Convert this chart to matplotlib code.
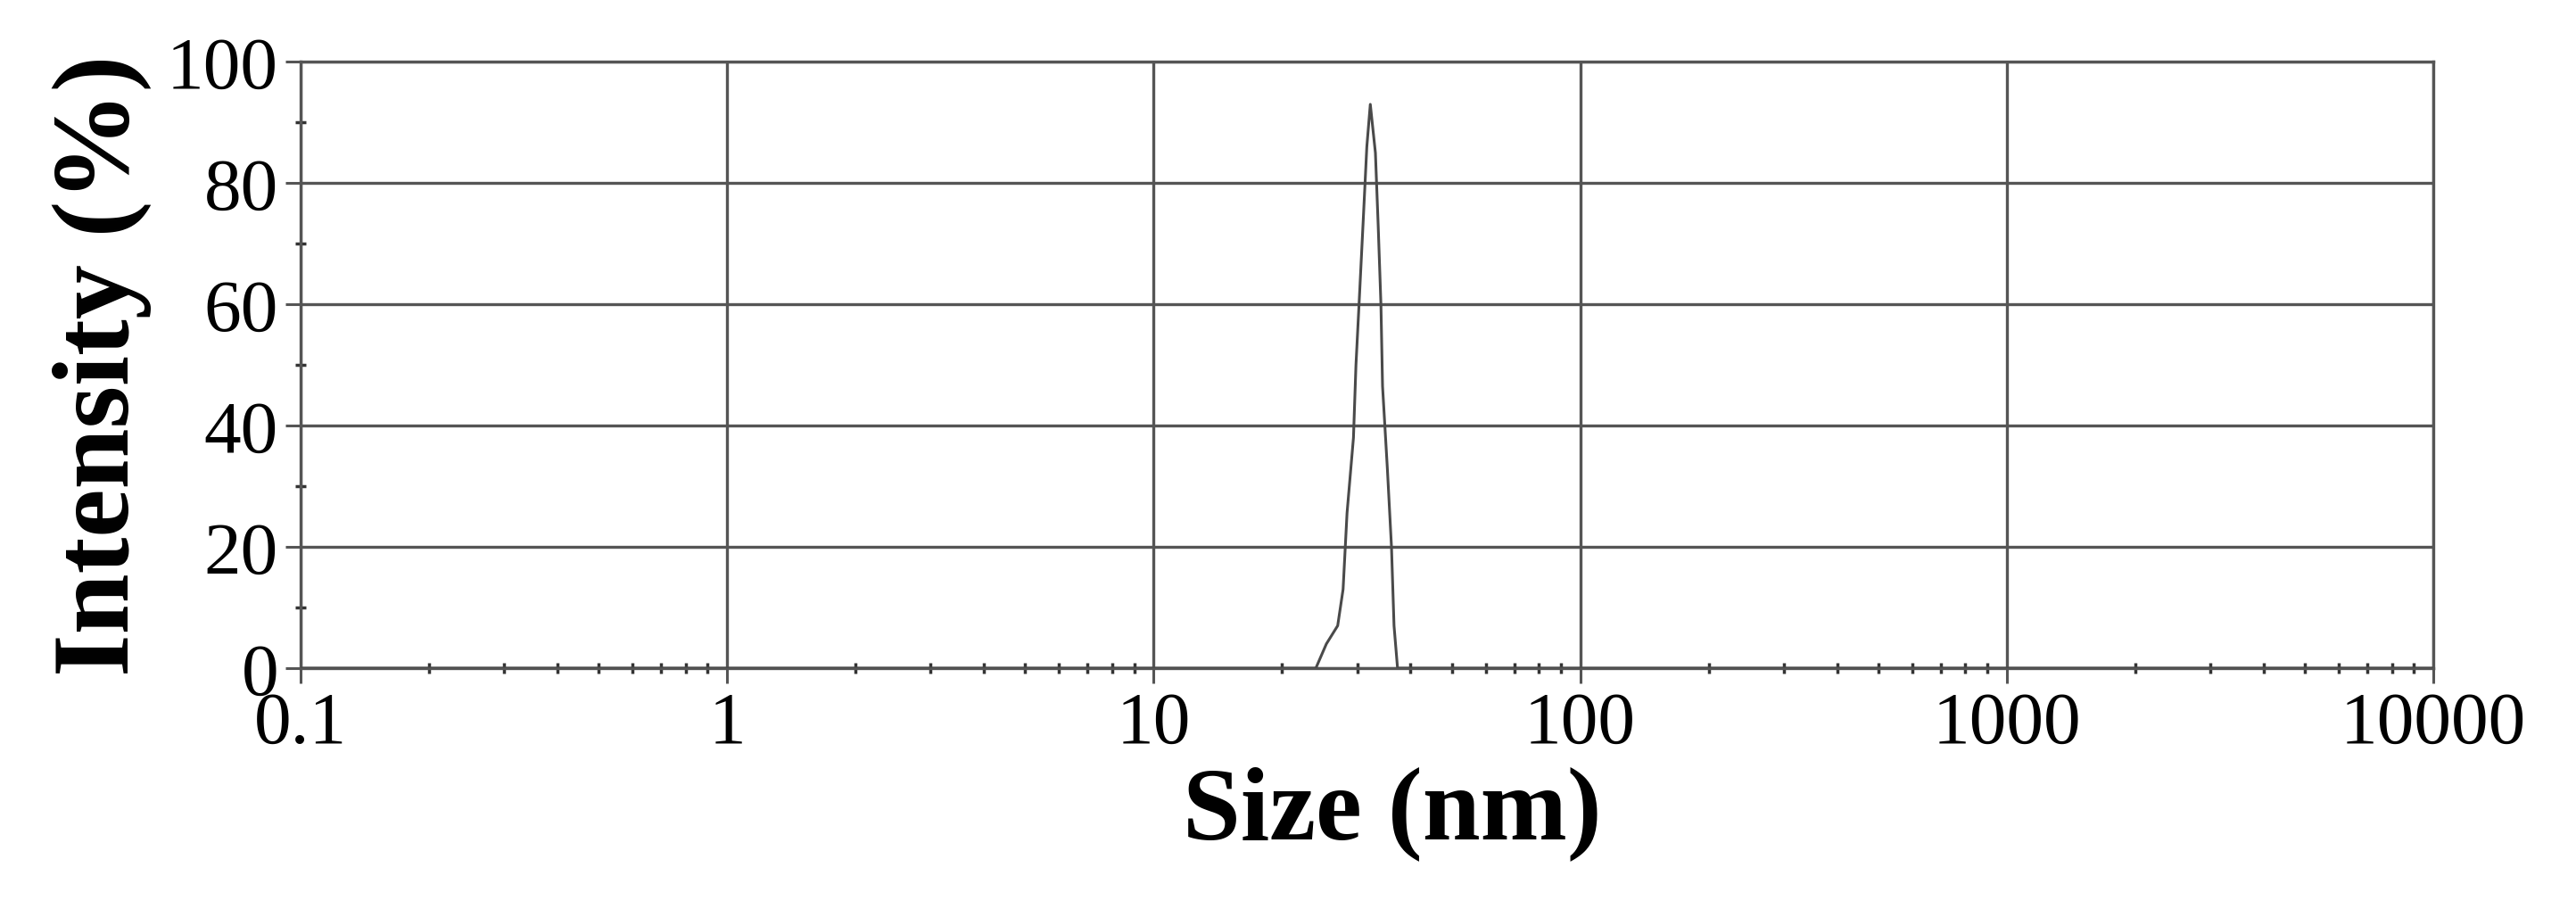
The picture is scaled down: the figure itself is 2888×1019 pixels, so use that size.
import matplotlib
matplotlib.use("Agg")
import matplotlib.pyplot as plt
from matplotlib.ticker import FixedLocator, NullFormatter

# 粒径分布数据 (nm, %)
size_nm = [0.1, 1, 10, 20, 24.0, 25.4, 27.0, 27.8, 28.4, 29.4, 29.8, 30.4, 31.0, 31.6,
           32.2, 33.1, 33.6, 34.1, 34.4, 35.3, 36.1, 36.6, 37.3, 50, 100, 1000, 10000]
intensity = [0, 0, 0, 0, 0, 4, 7, 13, 25.6, 38, 50, 62, 74, 86,
             93, 85, 73, 60, 46.5, 33, 20, 7, 0, 0, 0, 0, 0]

x_ticks = [0.1, 1, 10, 100, 1000, 10000]
x_labels = ["0.1", "1", "10", "100", "1000", "10000"]
y_ticks = [0, 20, 40, 60, 80, 100]

plt.rcParams['font.family'] = ['Liberation Serif', 'DejaVu Serif']

fig = plt.figure(figsize=(28.88, 10.2), dpi=100, facecolor="white")
ax = fig.add_axes([0.1167, 0.2647, 0.8279, 0.6663])

ax.plot(size_nm, intensity, color="#4a4a4a", lw=2.2, zorder=3)

ax.set_xscale("log")
ax.set_xlim(0.1, 10000)
ax.set_ylim(0, 100)

ax.xaxis.set_major_locator(FixedLocator(x_ticks))
ax.set_xticklabels(x_labels)
minor_x = [m * 10.0 ** e for e in range(-1, 4) for m in range(2, 10)]
ax.xaxis.set_minor_locator(FixedLocator(minor_x))
ax.xaxis.set_minor_formatter(NullFormatter())
ax.set_yticks(y_ticks)
ax.yaxis.set_minor_locator(FixedLocator([10, 30, 50, 70, 90]))

ax.grid(which="major", color="#555555", lw=2.4)
for s in ax.spines.values():
    s.set_color("#555555")
    s.set_linewidth(2.4)

ax.tick_params(which="major", direction="out", length=12, width=2.2, color="#555555",
               labelsize=60, pad=6)
ax.tick_params(which="minor", direction="inout", length=9, width=2.5, color="#333333")

ax.set_xlabel("Size (nm)", fontsize=84, fontweight="bold", labelpad=6, x=0.512)
ax.set_ylabel("Intensity (%)", fontsize=88, fontweight="bold", labelpad=12)

fig.savefig("out.png", dpi=100, facecolor="white")
